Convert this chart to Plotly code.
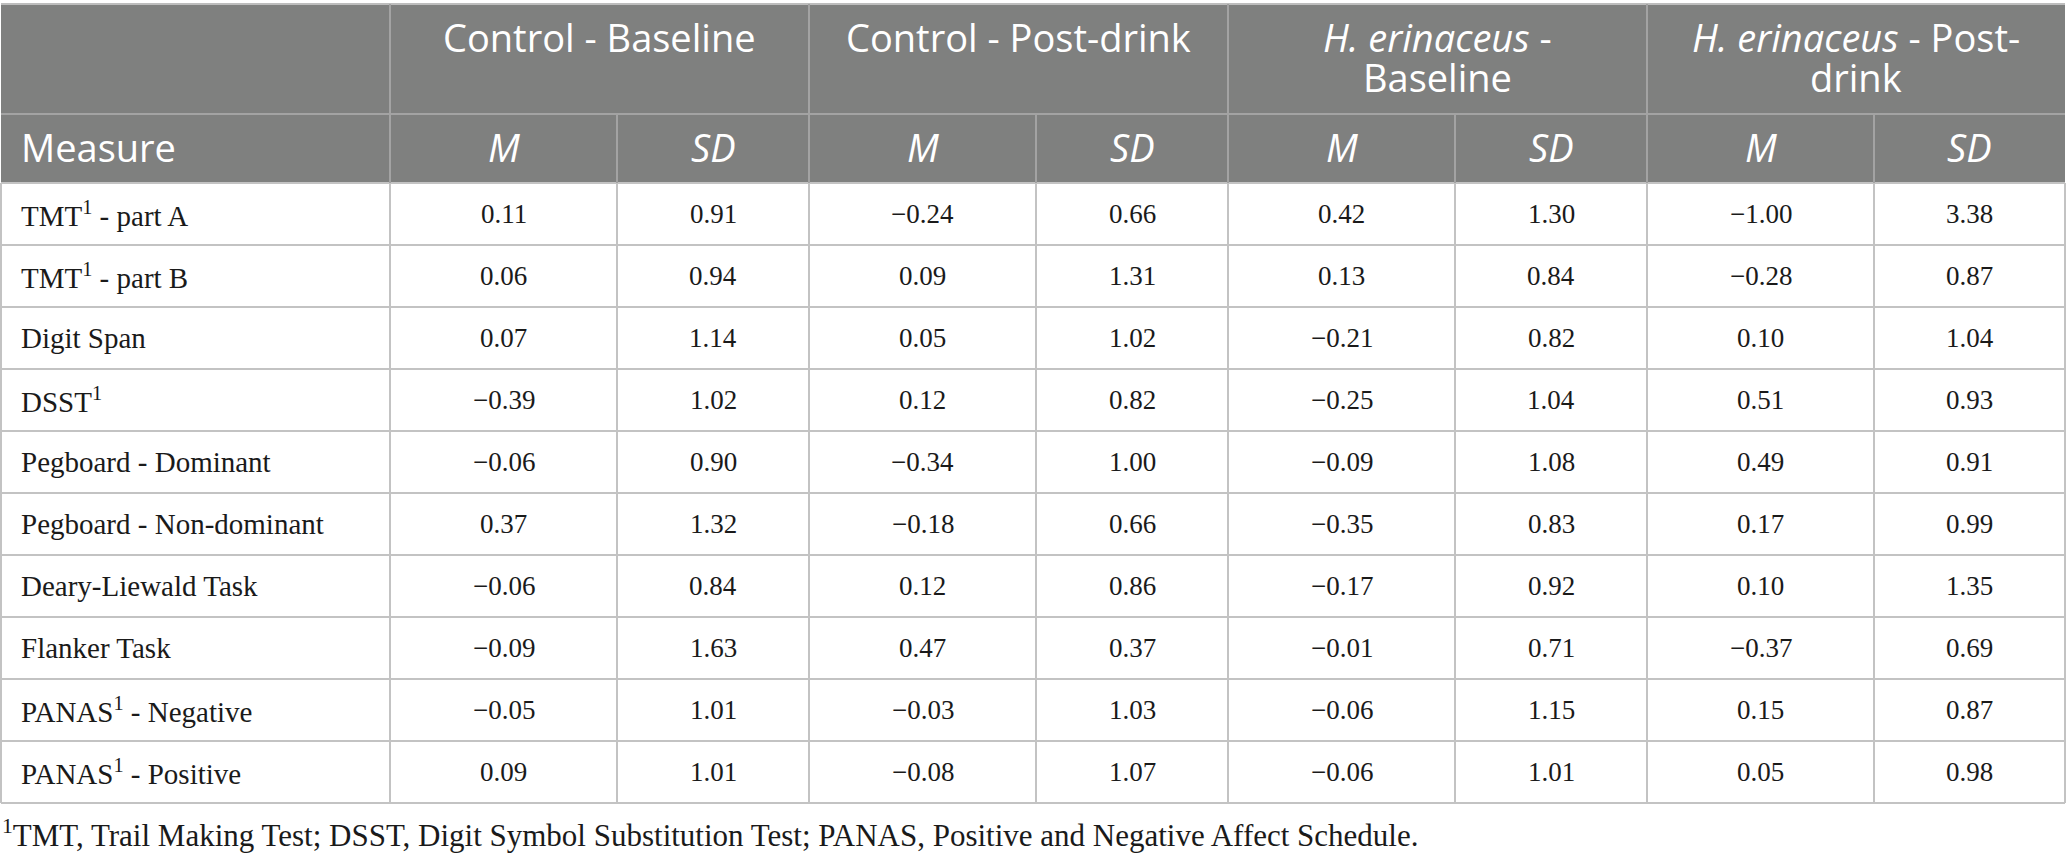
import plotly.graph_objects as go

# table content
group_labels = [
    ["Control - Baseline"],
    ["Control - Post-drink"],
    ["<i>H. erinaceus</i> -", "Baseline"],
    ["<i>H. erinaceus</i> - Post-", "drink"],
]
stat_labels = ["<i>M</i>", "<i>SD</i>"]
measures = [
    "TMT<sup>1</sup> - part A",
    "TMT<sup>1</sup> - part B",
    "Digit Span",
    "DSST<sup>1</sup>",
    "Pegboard - Dominant",
    "Pegboard - Non-dominant",
    "Deary-Liewald Task",
    "Flanker Task",
    "PANAS<sup>1</sup> - Negative",
    "PANAS<sup>1</sup> - Positive",
]
control_base_m = [0.11, 0.06, 0.07, -0.39, -0.06, 0.37, -0.06, -0.09, -0.05, 0.09]
control_base_sd = [0.91, 0.94, 1.14, 1.02, 0.90, 1.32, 0.84, 1.63, 1.01, 1.01]
control_post_m = [-0.24, 0.09, 0.05, 0.12, -0.34, -0.18, 0.12, 0.47, -0.03, -0.08]
control_post_sd = [0.66, 1.31, 1.02, 0.82, 1.00, 0.66, 0.86, 0.37, 1.03, 1.07]
heri_base_m = [0.42, 0.13, -0.21, -0.25, -0.09, -0.35, -0.17, -0.01, -0.06, -0.06]
heri_base_sd = [1.30, 0.84, 0.82, 1.04, 1.08, 0.83, 0.92, 0.71, 1.15, 1.01]
heri_post_m = [-1.00, -0.28, 0.10, 0.51, 0.49, 0.17, 0.10, -0.37, 0.15, 0.05]
heri_post_sd = [3.38, 0.87, 1.04, 0.93, 0.91, 0.99, 1.35, 0.69, 0.87, 0.98]
footnote = ("<sup>1</sup>TMT, Trail Making Test; DSST, Digit Symbol Substitution Test; "
            "PANAS, Positive and Negative Affect Schedule.")

value_cols = [control_base_m, control_base_sd, control_post_m, control_post_sd,
              heri_base_m, heri_base_sd, heri_post_m, heri_post_sd]

# geometry (pixels)
W, H = 2067, 855
col_edges = [1, 390, 617, 809, 1036, 1228, 1455, 1647, 1874, 2065]
top, head1_bot, head2_bot, row_h = 4, 114, 183, 62
n_rows = len(measures)
bottom = head2_bot + row_h * n_rows

head_fill = "#7f807f"
head_line = "#a3a3a3"
body_line = "#c3c3c3"
ink = "#1a1a1a"
sans = "Open Sans"
serif = "Liberation Serif"


def fmt(v):
    return f"{v:.2f}".replace("-", "\u2212")


def hline(x0, x1, y, color):
    return dict(type="line", xref="x", yref="y", x0=x0, x1=x1, y0=y, y1=y,
                line=dict(color=color, width=2))


def vline(x, y0, y1, color):
    return dict(type="line", xref="x", yref="y", x0=x, x1=x, y0=y0, y1=y1,
                line=dict(color=color, width=2))


fig = go.Figure()
shapes = []
annotations = []

# header background
shapes.append(dict(type="rect", xref="x", yref="y", x0=col_edges[0], x1=col_edges[-1],
                   y0=top, y1=head2_bot, fillcolor=head_fill, line_width=0, layer="below"))

# horizontal lines
shapes.append(hline(col_edges[0], col_edges[-1], top, "#bdbdbd"))
shapes.append(hline(col_edges[0], col_edges[-1], head1_bot, head_line))
for i in range(n_rows + 1):
    shapes.append(hline(col_edges[0], col_edges[-1], head2_bot + i * row_h, body_line))

# vertical lines
for j, x in enumerate(col_edges):
    if 0 < j < len(col_edges) - 1:
        y_start = top if j % 2 == 1 else head1_bot
        shapes.append(vline(x, y_start, head2_bot, head_line))
    shapes.append(vline(x, head2_bot, bottom, body_line))

# group headers
for g, lines in enumerate(group_labels):
    xc = (col_edges[1 + 2 * g] + col_edges[3 + 2 * g]) / 2
    for k, line in enumerate(lines):
        annotations.append(dict(x=xc, y=37 + 40 * k, text=line, showarrow=False,
                                xanchor="center", yanchor="middle",
                                font=dict(family=sans, size=38, color="white")))

# second header row
yc2 = (head1_bot + head2_bot) / 2 - 2
annotations.append(dict(x=col_edges[0] + 18, y=yc2, text="Measure", showarrow=False,
                        xanchor="left", yanchor="middle",
                        font=dict(family=sans, size=38, color="white")))
for c in range(len(value_cols)):
    xc = (col_edges[1 + c] + col_edges[2 + c]) / 2
    annotations.append(dict(x=xc, y=yc2, text=stat_labels[c % 2], showarrow=False,
                            xanchor="center", yanchor="middle",
                            font=dict(family=sans, size=38, color="white")))

# body
for r, name in enumerate(measures):
    yc = head2_bot + row_h * (r + 0.5)
    annotations.append(dict(x=col_edges[0] + 18, y=yc, text=name, showarrow=False,
                            xanchor="left", yanchor="middle",
                            font=dict(family=serif, size=29, color=ink)))
    for c, col in enumerate(value_cols):
        xc = (col_edges[1 + c] + col_edges[2 + c]) / 2
        annotations.append(dict(x=xc, y=yc, text=fmt(col[r]), showarrow=False,
                                xanchor="center", yanchor="middle",
                                font=dict(family=serif, size=27, color=ink)))

annotations.append(dict(x=0, y=833, text=footnote, showarrow=False,
                        xanchor="left", yanchor="middle",
                        font=dict(family=serif, size=31, color=ink)))

fig.update_layout(
    width=W, height=H,
    margin=dict(l=0, r=0, t=0, b=0),
    paper_bgcolor="white", plot_bgcolor="white",
    xaxis=dict(range=[0, W], visible=False, fixedrange=True),
    yaxis=dict(range=[H, 0], visible=False, fixedrange=True),
    shapes=shapes, annotations=annotations, showlegend=False,
)

fig.write_html("out.html", config={"displayModeBar": False},
               post_script="document.body.style.margin='0';document.body.style.overflow='hidden';")
